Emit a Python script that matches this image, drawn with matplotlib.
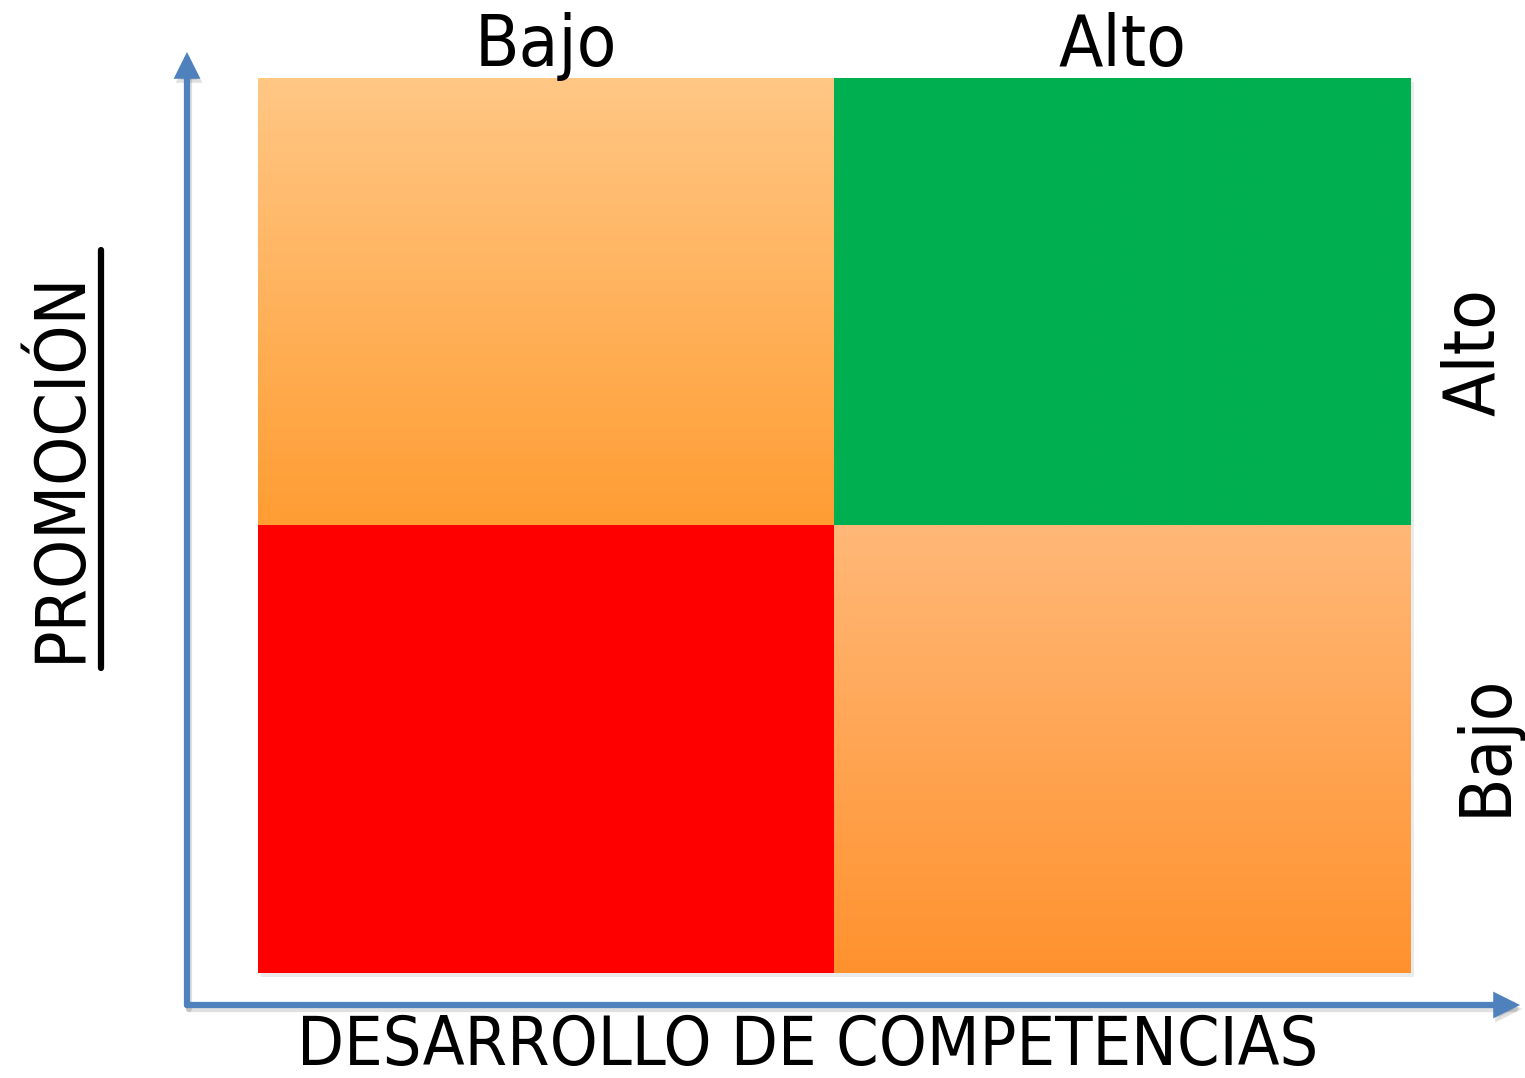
import numpy as np
import matplotlib
matplotlib.use("Agg")
import matplotlib.pyplot as plt
from matplotlib.colors import LinearSegmentedColormap

plt.rcParams['font.family'] = ['DejaVu Sans']
plt.rcParams['font.stretch'] = 'condensed'

# quadrant grid: columns = desarrollo (Bajo, Alto), rows = promocion (Bajo, Alto)
levels = ["Bajo", "Alto"]
x_title = "DESARROLLO DE COMPETENCIAS"
y_title = "PROMOCIÓN"
# (col, row, top colour, bottom colour)
cells = [
    (0, 1, "#FFC785", "#FF9D33"),
    (1, 1, "#00AF50", "#00AF50"),
    (0, 0, "#FF0000", "#FF0000"),
    (1, 0, "#FFB878", "#FF922E"),
]

fig = plt.figure(figsize=(15.25, 10.78), dpi=100)
W, H = 1525, 1078
ax = fig.add_axes([258 / W, (H - 973) / H, (1411 - 258) / W, (973 - 78) / H])
ax.set_xlim(0, 2)
ax.set_ylim(0, 2)
ax.axis("off")

px = 576.5   # pixels per data unit, x
py = 447.5   # pixels per data unit, y

grad = np.linspace(1, 0, 256).reshape(-1, 1)
for c, r, top, bot in cells:
    cmap = LinearSegmentedColormap.from_list("g", [bot, top])
    # soft shadow
    ax.add_patch(plt.Rectangle((c + 3 / px, r - 4 / py), 1, 1, color="#000000",
                               alpha=0.08, lw=0, zorder=1, clip_on=False))
    ax.imshow(grad, cmap=cmap, extent=(c, c + 1, r, r + 1), aspect="auto",
              vmin=0, vmax=1, zorder=2, interpolation="bilinear")

ax.set_xlim(0, 2)
ax.set_ylim(0, 2)

# axes arrows
blue = "#4F81BD"
x0 = (187 - 258) / px
y0 = (973 - 1005) / py
style = "-|>,head_length=1.0,head_width=0.5"
for tip in [(x0, (973 - 52) / py), ((1520 - 258) / px, y0)]:
    # faint shadow
    ax.annotate("", xy=(tip[0] + 2 / px, tip[1] - 4 / py),
                xytext=(x0 + 2 / px, y0 - 4 / py),
                arrowprops=dict(arrowstyle=style, mutation_scale=12,
                                color="#000000", alpha=0.12, lw=4.5,
                                shrinkA=0, shrinkB=0, joinstyle="miter"),
                annotation_clip=False)
    ax.annotate("", xy=tip, xytext=(x0, y0),
                arrowprops=dict(arrowstyle=style, mutation_scale=12,
                                color=blue, lw=4.5, shrinkA=0, shrinkB=0,
                                joinstyle="miter"),
                annotation_clip=False)

# level labels
for i, lab in enumerate(levels):
    ax.text(i + 0.5, 2.0 + (78 - 66) / py, lab, ha="center", va="baseline",
            fontsize=52, clip_on=False)
ax.text(2.0 + (1495 - 1411) / px, (973 - 352) / py, "Alto", rotation=90,
        rotation_mode="anchor", ha="center", va="baseline", fontsize=52,
        clip_on=False)
ax.text(2.0 + (1506 - 1411) / px, (973 - 745) / py, "Bajo", rotation=90,
        rotation_mode="anchor", ha="center", va="baseline", fontsize=52,
        clip_on=False)

# titles
fig.text(808 / W, 1 - 1065 / H, x_title, ha="center", va="baseline",
         fontsize=49)
fig.text(80 / W, 1 - 466 / H, y_title, rotation=90, rotation_mode="anchor",
         ha="center", va="baseline", fontsize=50)
fig.add_artist(plt.Line2D([101 / W, 101 / W], [1 - 250 / H, 1 - 668 / H],
                          color="black", lw=4.5, solid_capstyle="round"))

fig.savefig("out.png", dpi=100, facecolor="white")
